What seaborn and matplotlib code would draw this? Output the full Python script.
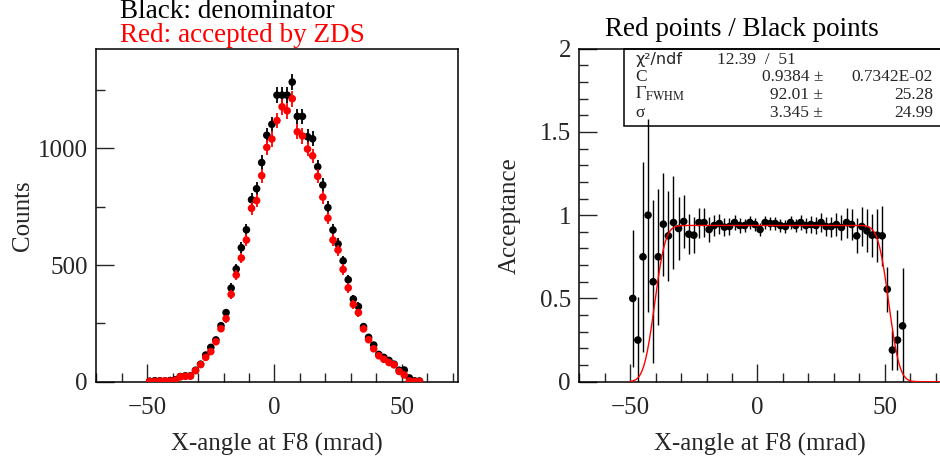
import math
import numpy as np
import pandas as pd
import matplotlib
matplotlib.use("Agg")
import matplotlib.pyplot as plt
from matplotlib.ticker import MultipleLocator, FuncFormatter
from matplotlib.patches import Rectangle
import seaborn as sns

# ---------------- data ----------------
bin_centers = [-49, -47, -45, -43, -41, -39, -37, -35, -33, -31, -29, -27, -25, -23,
               -21, -19, -17, -15, -13, -11, -9, -7, -5, -3, -1, 1, 3, 5, 7, 9, 11,
               13, 15, 17, 19, 21, 23, 25, 27, 29, 31, 33, 35, 37, 39, 41, 43, 45,
               47, 49, 51, 53, 55, 57]

black_counts = [2, 4, 4, 3, 5, 8, 22, 25, 25, 49, 75, 114, 147, 179,
                240, 296, 401, 483, 574, 651, 780, 827, 939, 1056, 1103, 1228, 1228, 1228, 1284, 1137, 1137,
                1050, 1041, 921, 843, 746, 650, 590, 518, 437, 354, 322, 236, 190, 157, 117, 104, 91,
                75, 49, 50, 16, 4, 3]

red_counts = [1, 1, 3, 3, 3, 6, 21, 23, 24, 47, 73, 104, 129, 171,
              227, 270, 374, 457, 530, 607, 743, 776, 883, 1004, 1040, 1119, 1178, 1161, 1213, 1071, 1053,
              997, 968, 880, 791, 701, 607, 564, 481, 402, 331, 296, 226, 180, 141, 111, 96, 82,
              72, 44, 29, 3, 1, 1]

ratio_values = [0.50, 0.25, 0.75, 1.00, 0.60, 0.75, 0.946, 0.876, 0.956, 0.92, 0.962, 0.886, 0.88, 0.956,
                0.956, 0.914, 0.938, 0.95, 0.928, 0.932, 0.956, 0.938, 0.938, 0.956, 0.944, 0.914, 0.956, 0.95, 0.95, 0.938, 0.932,
                0.956, 0.938, 0.956, 0.938, 0.944, 0.938, 0.956, 0.932, 0.932, 0.944, 0.926, 0.956, 0.944, 0.876, 0.932, 0.906, 0.88,
                0.88, 0.876, 0.555, 0.19, 0.25, 0.335]

ratio_errors = [0.41, 0.26, 0.57, 0.58, 0.49, 0.41, 0.31, 0.27, 0.28, 0.19, 0.16, 0.12, 0.11, 0.09,
                0.085, 0.075, 0.065, 0.06, 0.055, 0.05, 0.045, 0.045, 0.04, 0.04, 0.04, 0.04, 0.04, 0.04, 0.04, 0.04, 0.04,
                0.04, 0.04, 0.045, 0.045, 0.05, 0.05, 0.055, 0.055, 0.06, 0.07, 0.075, 0.09, 0.095, 0.105, 0.12, 0.13, 0.13,
                0.16, 0.18, 0.135, 0.12, 0.18, 0.35]

# fit parameters (stats box) + fitted centre
fit_C = 0.9384
fit_fwhm = 92.01
fit_sigma = 3.345
fit_center = 5.6
fit_range = (-50, 72)

stats_labels = ["χ²/ndf", "C", r"$\mathrm{\Gamma}_{\mathrm{FWHM}}$", "σ"]
stats_values = ["0.9384 ±", "92.01 ±", "3.345 ±"]
stats_errors = ["0.7342E-02", "25.28", "24.99"]
chi2_text = "12.39  /  51"

x_label = "X-angle at F8 (mrad)"

# ---------------- style ----------------
sns.set_style("ticks")
plt.rcParams['font.family'] = ['Liberation Serif', 'DejaVu Serif']
plt.rcParams['mathtext.fontset'] = 'stix'

df = pd.DataFrame({"x": bin_centers, "black": black_counts, "red": red_counts,
                   "ratio": ratio_values, "rerr": ratio_errors})

fig = plt.figure(figsize=(9.4, 4.67), dpi=100)
axL = fig.add_axes([0.1024, 0.1827, 0.3845, 0.713])
axR = fig.add_axes([0.6163, 0.1827, 0.3845, 0.713])

MS = 30

# ---------------- left panel ----------------
axL.errorbar(df["x"], df["black"], yerr=np.sqrt(df["black"]), fmt='none',
             ecolor='black', elinewidth=1.3, capsize=0, zorder=2)
sns.scatterplot(data=df, x="x", y="black", color='black', s=MS, edgecolor='none',
                ax=axL, zorder=3, legend=False)
axL.errorbar(df["x"], df["red"], yerr=np.sqrt(df["red"]), fmt='none',
             ecolor='red', elinewidth=1.3, capsize=0, zorder=4)
sns.scatterplot(data=df, x="x", y="red", color='red', s=MS, edgecolor='none',
                ax=axL, zorder=5, legend=False)

axL.set_xlim(-70, 72)
axL.set_ylim(0, 1427)
axL.xaxis.set_major_locator(MultipleLocator(50))
axL.xaxis.set_minor_locator(MultipleLocator(10))
axL.yaxis.set_major_locator(MultipleLocator(500))
axL.yaxis.set_minor_locator(MultipleLocator(250))
axL.set_xlabel(x_label, fontsize=18, labelpad=10)
axL.set_ylabel("Counts", fontsize=18, labelpad=3)

# ---------------- right panel ----------------
axR.errorbar(df["x"], df["ratio"], yerr=df["rerr"], fmt='none',
             ecolor='black', elinewidth=1.0, capsize=0, zorder=2)
sns.scatterplot(data=df, x="x", y="ratio", color='black', s=MS, edgecolor='none',
                ax=axR, zorder=3, legend=False)

xf = np.linspace(fit_range[0], fit_range[1], 800)
lo = fit_center - fit_fwhm / 2
hi = fit_center + fit_fwhm / 2
erf_v = np.vectorize(math.erf)
yf = fit_C * 0.5 * (erf_v((xf - lo) / (math.sqrt(2) * fit_sigma)) -
                    erf_v((xf - hi) / (math.sqrt(2) * fit_sigma)))
sns.lineplot(x=xf, y=yf, color='red', linewidth=1.0, ax=axR, zorder=4)

axR.set_xlim(-70, 72)
axR.set_ylim(0, 2)
axR.xaxis.set_major_locator(MultipleLocator(50))
axR.xaxis.set_minor_locator(MultipleLocator(10))
axR.yaxis.set_major_locator(MultipleLocator(0.5))
axR.yaxis.set_minor_locator(MultipleLocator(0.1))
axR.yaxis.set_major_formatter(FuncFormatter(lambda v, p: ("%g" % v)))
axR.set_xlabel(x_label, fontsize=18, labelpad=10)
axR.set_ylabel("Acceptance", fontsize=18, labelpad=14)

for ax in (axL, axR):
    ax.tick_params(which='major', direction='in', length=13, width=1.0,
                   labelsize=18, top=False, right=False, pad=6)
    ax.tick_params(which='minor', direction='in', length=6.5, width=1.0,
                   top=False, right=False)
    ax.tick_params(axis='x', which='major', pad=11)
    for s in ax.spines.values():
        s.set_linewidth(1.1)
        s.set_color('black')
        s.set_visible(True)

# stats box
box = Rectangle((0.1245, 0.769), 0.8755, 0.231, transform=axR.transAxes,
                facecolor='none', edgecolor='black', linewidth=1.1, zorder=6,
                clip_on=False)
axR.add_patch(box)
row_base = [0.955, 0.902, 0.849, 0.796]
FS = 12.5
axR.text(0.155, row_base[0], stats_labels[0], transform=axR.transAxes, fontsize=11.5,
         family=['DejaVu Sans'], va='baseline', ha='left', zorder=7)
axR.text(0.38, row_base[0], chi2_text, transform=axR.transAxes, fontsize=FS,
         va='baseline', ha='left', zorder=7)
for lab, val, err, yy in zip(stats_labels[1:], stats_values, stats_errors, row_base[1:]):
    axR.text(0.155, yy, lab, transform=axR.transAxes, fontsize=FS,
             va='baseline', ha='left', zorder=7)
    axR.text(0.675, yy, val, transform=axR.transAxes, fontsize=FS,
             va='baseline', ha='right', zorder=7)
    axR.text(0.978, yy, err, transform=axR.transAxes, fontsize=FS,
             va='baseline', ha='right', zorder=7)

# titles / legend texts
fig.text(120.5 / 940, 1 - 18.3 / 467, "Black: denominator", color='black',
         fontsize=19.5, ha='left', va='baseline')
fig.text(120.5 / 940, 1 - 42.3 / 467, "Red: accepted by ZDS", color='red',
         fontsize=19.5, ha='left', va='baseline')
fig.text(741.5 / 940, 1 - 36 / 467, "Red points / Black points", color='black',
         fontsize=19.5, ha='center', va='baseline')

fig.savefig("out.png", dpi=100)
